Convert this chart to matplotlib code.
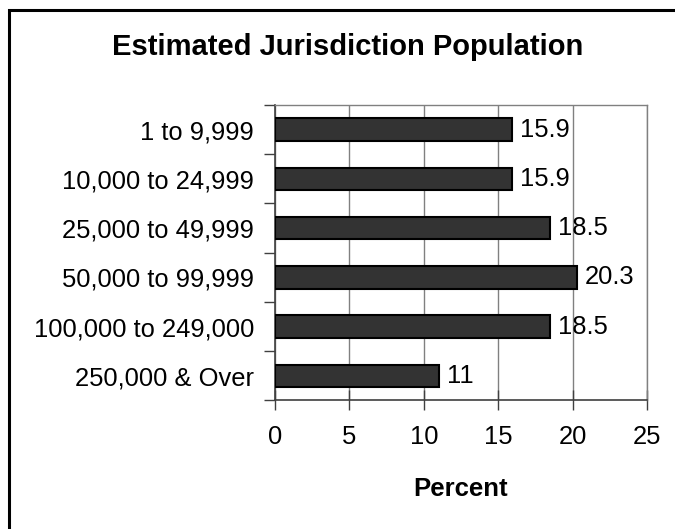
import matplotlib.pyplot as plt
from matplotlib.patches import Rectangle

# jurisdiction size groups, top to bottom
groups = ["1 to 9,999", "10,000 to 24,999", "25,000 to 49,999",
          "50,000 to 99,999", "100,000 to 249,000", "250,000 & Over"]
percent = [15.9, 15.9, 18.5, 20.3, 18.5, 11]
x_ticks = [0, 5, 10, 15, 20, 25]

plt.rcParams['font.family'] = ['Liberation Sans', 'DejaVu Sans']

fig = plt.figure(figsize=(6.75, 5.29), dpi=100)
ax = fig.add_axes([0.4074, 0.2430, 0.5511, 0.5585])

# bars are centred between the category boundary ticks
n = len(groups)
centres = [i + 0.5 for i in range(n)]
ax.barh(centres, percent, height=0.46, color="#333333",
        edgecolor="black", linewidth=1.5, zorder=3)
for y, v in zip(centres, percent):
    ax.text(v + 0.55, y, f"{v:g}", va="center", ha="left", fontsize=18.4)

ax.set_xlim(0, 25)
ax.set_ylim(n, 0)
ax.set_xticks(x_ticks)
ax.set_xticklabels([str(t) for t in x_ticks], fontsize=18.4)
ax.tick_params(axis="x", direction="inout", length=14, width=1,
               color="#404040", pad=11)
ax.grid(axis="x", color="#808080", linewidth=1, zorder=0)

ax.set_yticks(range(n + 1))
ax.set_yticklabels([""] * (n + 1))
ax.tick_params(axis="y", which="major", direction="out", length=8,
               width=1, color="#404040")
ax.set_yticks(centres, minor=True)
ax.set_yticklabels(groups, minor=True, fontsize=18.4)
ax.tick_params(axis="y", which="minor", length=0, pad=15)

# plot area border: gray on top/right, dark axis lines left/bottom
for side in ["top", "right"]:
    ax.spines[side].set_color("#808080")
    ax.spines[side].set_linewidth(1)
for side in ["left", "bottom"]:
    ax.spines[side].set_color("#404040")
    ax.spines[side].set_linewidth(1.2)

ax.set_xlabel("Percent", fontsize=18.5, fontweight="bold", labelpad=20)
fig.text(347.5 / 675, 1 - 55 / 529, "Estimated Jurisdiction Population",
         ha="center", va="baseline", fontsize=21, fontweight="bold")

# chart frame, partly running off the image edges
fig.patches.append(Rectangle((8.5 / 675, -0.1), 1.2, 1.1 - 9.5 / 529,
                             transform=fig.transFigure, fill=False,
                             edgecolor="black", linewidth=2.2))

fig.savefig("out.png", dpi=100)
